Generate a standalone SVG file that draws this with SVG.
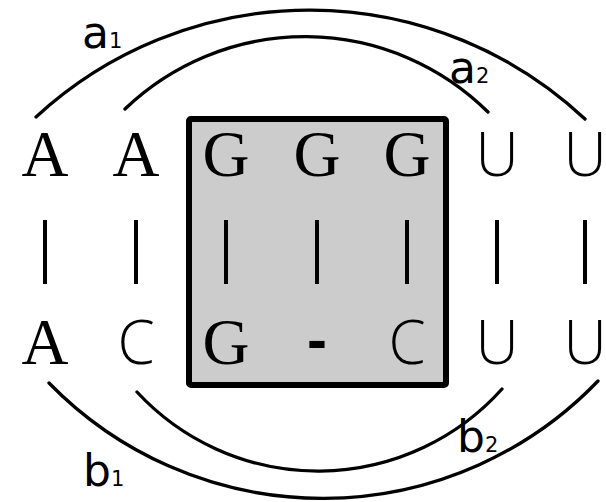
<svg xmlns="http://www.w3.org/2000/svg" width="606" height="502" viewBox="0 0 606 502">
<style>
.arc{fill:none;stroke:#000;stroke-width:3.3;stroke-linecap:round}
.bar{stroke:#000;stroke-width:4}
.mono{font-family:'Liberation Serif','DejaVu Serif',serif;font-size:65px;fill:#000;text-anchor:middle}
.sans{font-family:'Open Sans','DejaVu Sans',sans-serif;font-weight:350;font-size:60px;fill:#000;text-anchor:middle}
.lbl{font-family:'DejaVu Sans',sans-serif;font-size:44px;fill:#000}
.sub{font-size:21px}
.dash{font-family:'Liberation Sans',Arial,sans-serif;font-size:60px;font-weight:bold;fill:#000;text-anchor:middle}
</style>
<rect x="0" y="0" width="606" height="502" fill="#fff"/>
<g id="box"><rect x="189" y="119" width="257" height="266" rx="2" fill="#cccccc" stroke="#000" stroke-width="6"/></g>
<g id="connectors">
<path id="a1" class="arc" d="M36,117 A403,403 0 0 1 585,119"/>
<path id="a2" class="arc" d="M125,109 A260,260 0 0 1 488,112"/>
<path id="b1" class="arc" d="M49,383 A382,382 0 0 0 598,381"/>
<path id="b2" class="arc" d="M137,392 A247,247 0 0 0 502,389"/>
<line class="bar" x1="45" y1="220" x2="45" y2="284"/>
<line class="bar" x1="136" y1="220" x2="136" y2="284"/>
<line class="bar" x1="226" y1="220" x2="226" y2="284"/>
<line class="bar" x1="317" y1="220" x2="317" y2="284"/>
<line class="bar" x1="407" y1="220" x2="407" y2="284"/>
<line class="bar" x1="497" y1="220" x2="497" y2="284"/>
<line class="bar" x1="585" y1="220" x2="585" y2="284"/>
</g>
<g id="top-row">
<text class="mono" x="45" y="176">A</text>
<text class="mono" x="136" y="176">A</text>
<text class="mono" x="226" y="176">G</text>
<text class="mono" x="317" y="176">G</text>
<text class="mono" x="407" y="176">G</text>
<text class="sans" x="497" y="176">U</text>
<text class="sans" x="585" y="176">U</text>
</g>
<g id="bottom-row">
<text class="mono" x="45" y="364">A</text>
<text class="sans" x="136" y="364">C</text>
<text class="mono" x="226" y="364">G</text>
<text class="dash" x="317" y="360">-</text>
<text class="sans" x="407" y="364">C</text>
<text class="sans" x="497" y="364">U</text>
<text class="sans" x="585" y="364">U</text>
</g>
<g id="labels">
<text class="lbl" x="82" y="48">a<tspan class="sub">1</tspan></text>
<text class="lbl" x="449" y="83">a<tspan class="sub">2</tspan></text>
<text class="lbl" x="83" y="486">b<tspan class="sub">1</tspan></text>
<text class="lbl" x="457" y="452">b<tspan class="sub">2</tspan></text>
</g>
</svg>
